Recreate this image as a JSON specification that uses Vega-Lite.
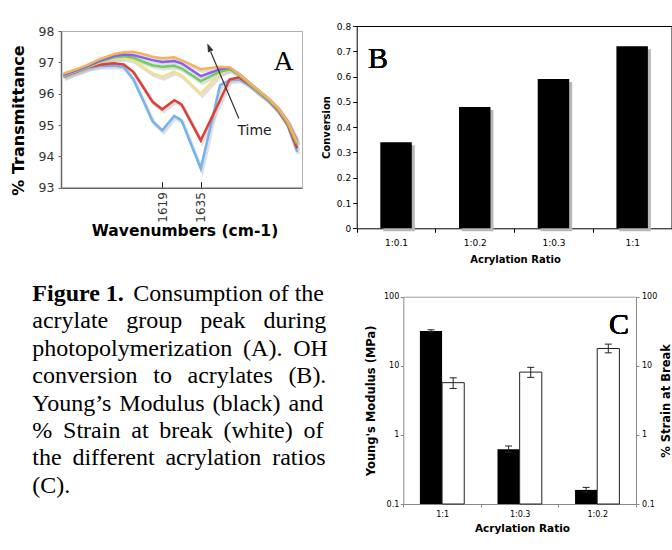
{
  "$schema": "https://vega.github.io/schema/vega-lite/v6.json",
  "width": 672,
  "height": 550,
  "autosize": "none",
  "padding": 0,
  "background": "white",
  "config": {
    "view": {"stroke": null},
    "font": "DejaVu Sans",
    "axis": {"grid": false, "labelFont": "DejaVu Sans", "titleFont": "DejaVu Sans", "domainColor": "#000", "tickColor": "#000", "labelColor": "#000", "titleColor": "#000", "titleFontWeight": "bold", "titleBaseline": "middle"}
  },
  "datasets": {
    "spectra": [
      {"series":"t1","wavenumber":1578,"transmittance":96.52},{"series":"t1","wavenumber":1583,"transmittance":96.67},{"series":"t1","wavenumber":1588,"transmittance":96.81},{"series":"t1","wavenumber":1593,"transmittance":96.88},{"series":"t1","wavenumber":1599,"transmittance":96.90},{"series":"t1","wavenumber":1603,"transmittance":96.85},{"series":"t1","wavenumber":1607,"transmittance":96.46},{"series":"t1","wavenumber":1611,"transmittance":95.80},{"series":"t1","wavenumber":1615,"transmittance":95.12},{"series":"t1","wavenumber":1619,"transmittance":94.83},{"series":"t1","wavenumber":1624,"transmittance":95.29},{"series":"t1","wavenumber":1627,"transmittance":95.15},{"series":"t1","wavenumber":1635,"transmittance":93.61},{"series":"t1","wavenumber":1643,"transmittance":96.27},{"series":"t1","wavenumber":1647,"transmittance":96.43},{"series":"t1","wavenumber":1651,"transmittance":96.45},{"series":"t1","wavenumber":1655,"transmittance":96.27},{"series":"t1","wavenumber":1659,"transmittance":96.02},{"series":"t1","wavenumber":1663,"transmittance":95.77},{"series":"t1","wavenumber":1667,"transmittance":95.45},{"series":"t1","wavenumber":1671,"transmittance":95.00},{"series":"t1","wavenumber":1675,"transmittance":94.14},
      {"series":"t2","wavenumber":1578,"transmittance":96.55},{"series":"t2","wavenumber":1583,"transmittance":96.70},{"series":"t2","wavenumber":1588,"transmittance":96.84},{"series":"t2","wavenumber":1593,"transmittance":96.92},{"series":"t2","wavenumber":1599,"transmittance":96.97},{"series":"t2","wavenumber":1603,"transmittance":96.93},{"series":"t2","wavenumber":1607,"transmittance":96.70},{"series":"t2","wavenumber":1611,"transmittance":96.22},{"series":"t2","wavenumber":1615,"transmittance":95.74},{"series":"t2","wavenumber":1619,"transmittance":95.50},{"series":"t2","wavenumber":1624,"transmittance":95.79},{"series":"t2","wavenumber":1627,"transmittance":95.66},{"series":"t2","wavenumber":1635,"transmittance":94.51},{"series":"t2","wavenumber":1643,"transmittance":95.79},{"series":"t2","wavenumber":1647,"transmittance":96.46},{"series":"t2","wavenumber":1651,"transmittance":96.52},{"series":"t2","wavenumber":1655,"transmittance":96.30},{"series":"t2","wavenumber":1659,"transmittance":96.05},{"series":"t2","wavenumber":1663,"transmittance":95.80},{"series":"t2","wavenumber":1667,"transmittance":95.48},{"series":"t2","wavenumber":1671,"transmittance":95.02},{"series":"t2","wavenumber":1675,"transmittance":94.26},
      {"series":"t3","wavenumber":1578,"transmittance":96.57},{"series":"t3","wavenumber":1583,"transmittance":96.71},{"series":"t3","wavenumber":1588,"transmittance":96.85},{"series":"t3","wavenumber":1593,"transmittance":97.00},{"series":"t3","wavenumber":1599,"transmittance":97.13},{"series":"t3","wavenumber":1603,"transmittance":97.14},{"series":"t3","wavenumber":1607,"transmittance":97.07},{"series":"t3","wavenumber":1611,"transmittance":96.86},{"series":"t3","wavenumber":1615,"transmittance":96.65},{"series":"t3","wavenumber":1619,"transmittance":96.54},{"series":"t3","wavenumber":1624,"transmittance":96.70},{"series":"t3","wavenumber":1627,"transmittance":96.59},{"series":"t3","wavenumber":1635,"transmittance":96.00},{"series":"t3","wavenumber":1643,"transmittance":96.65},{"series":"t3","wavenumber":1647,"transmittance":96.78},{"series":"t3","wavenumber":1651,"transmittance":96.60},{"series":"t3","wavenumber":1655,"transmittance":96.33},{"series":"t3","wavenumber":1659,"transmittance":96.07},{"series":"t3","wavenumber":1663,"transmittance":95.82},{"series":"t3","wavenumber":1667,"transmittance":95.52},{"series":"t3","wavenumber":1671,"transmittance":95.08},{"series":"t3","wavenumber":1675,"transmittance":94.40},
      {"series":"t4","wavenumber":1578,"transmittance":96.58},{"series":"t4","wavenumber":1583,"transmittance":96.72},{"series":"t4","wavenumber":1588,"transmittance":96.86},{"series":"t4","wavenumber":1593,"transmittance":97.02},{"series":"t4","wavenumber":1599,"transmittance":97.16},{"series":"t4","wavenumber":1603,"transmittance":97.19},{"series":"t4","wavenumber":1607,"transmittance":97.15},{"series":"t4","wavenumber":1611,"transmittance":97.02},{"series":"t4","wavenumber":1615,"transmittance":96.91},{"series":"t4","wavenumber":1619,"transmittance":96.86},{"series":"t4","wavenumber":1624,"transmittance":96.89},{"series":"t4","wavenumber":1627,"transmittance":96.81},{"series":"t4","wavenumber":1635,"transmittance":96.40},{"series":"t4","wavenumber":1643,"transmittance":96.70},{"series":"t4","wavenumber":1647,"transmittance":96.78},{"series":"t4","wavenumber":1651,"transmittance":96.60},{"series":"t4","wavenumber":1655,"transmittance":96.33},{"series":"t4","wavenumber":1659,"transmittance":96.07},{"series":"t4","wavenumber":1663,"transmittance":95.82},{"series":"t4","wavenumber":1667,"transmittance":95.52},{"series":"t4","wavenumber":1671,"transmittance":95.08},{"series":"t4","wavenumber":1675,"transmittance":94.40},
      {"series":"t5","wavenumber":1578,"transmittance":96.60},{"series":"t5","wavenumber":1583,"transmittance":96.74},{"series":"t5","wavenumber":1588,"transmittance":96.88},{"series":"t5","wavenumber":1593,"transmittance":97.05},{"series":"t5","wavenumber":1599,"transmittance":97.20},{"series":"t5","wavenumber":1603,"transmittance":97.25},{"series":"t5","wavenumber":1607,"transmittance":97.23},{"series":"t5","wavenumber":1611,"transmittance":97.15},{"series":"t5","wavenumber":1615,"transmittance":97.07},{"series":"t5","wavenumber":1619,"transmittance":97.01},{"series":"t5","wavenumber":1624,"transmittance":97.04},{"series":"t5","wavenumber":1627,"transmittance":96.97},{"series":"t5","wavenumber":1635,"transmittance":96.56},{"series":"t5","wavenumber":1643,"transmittance":96.78},{"series":"t5","wavenumber":1647,"transmittance":96.83},{"series":"t5","wavenumber":1651,"transmittance":96.62},{"series":"t5","wavenumber":1655,"transmittance":96.36},{"series":"t5","wavenumber":1659,"transmittance":96.10},{"series":"t5","wavenumber":1663,"transmittance":95.85},{"series":"t5","wavenumber":1667,"transmittance":95.55},{"series":"t5","wavenumber":1671,"transmittance":95.12},{"series":"t5","wavenumber":1675,"transmittance":94.50},
      {"series":"t6","wavenumber":1578,"transmittance":96.64},{"series":"t6","wavenumber":1583,"transmittance":96.77},{"series":"t6","wavenumber":1588,"transmittance":96.92},{"series":"t6","wavenumber":1593,"transmittance":97.10},{"series":"t6","wavenumber":1599,"transmittance":97.26},{"series":"t6","wavenumber":1603,"transmittance":97.32},{"series":"t6","wavenumber":1607,"transmittance":97.34},{"series":"t6","wavenumber":1611,"transmittance":97.27},{"series":"t6","wavenumber":1615,"transmittance":97.18},{"series":"t6","wavenumber":1619,"transmittance":97.13},{"series":"t6","wavenumber":1624,"transmittance":97.16},{"series":"t6","wavenumber":1627,"transmittance":97.07},{"series":"t6","wavenumber":1635,"transmittance":96.78},{"series":"t6","wavenumber":1643,"transmittance":96.86},{"series":"t6","wavenumber":1647,"transmittance":96.84},{"series":"t6","wavenumber":1651,"transmittance":96.62},{"series":"t6","wavenumber":1655,"transmittance":96.36},{"series":"t6","wavenumber":1659,"transmittance":96.10},{"series":"t6","wavenumber":1663,"transmittance":95.85},{"series":"t6","wavenumber":1667,"transmittance":95.55},{"series":"t6","wavenumber":1671,"transmittance":95.12},{"series":"t6","wavenumber":1675,"transmittance":94.45}
    ],
    "conversion": [
      {"ratio":"1:0.1","conversion":0.34},
      {"ratio":"1:0.2","conversion":0.48},
      {"ratio":"1:0.3","conversion":0.59},
      {"ratio":"1:1","conversion":0.72}
    ],
    "mechanics": [
      {"ratio":"1:1","measure":"Young's Modulus","value":32,"low":31,"high":33.2},
      {"ratio":"1:1","measure":"% Strain at Break","value":5.7,"low":4.7,"high":6.7},
      {"ratio":"1:0.3","measure":"Young's Modulus","value":0.62,"low":0.56,"high":0.69},
      {"ratio":"1:0.3","measure":"% Strain at Break","value":8.1,"low":6.8,"high":9.5},
      {"ratio":"1:0.2","measure":"Young's Modulus","value":0.16,"low":0.148,"high":0.174},
      {"ratio":"1:0.2","measure":"% Strain at Break","value":17.8,"low":15.4,"high":20.6}
    ]
  },
  "resolve": {"scale": {"x": "independent", "y": "independent"}},
  "layer": [
    {
      "resolve": {"axis": {"x": "independent", "y": "independent"}},
      "layer": [
        {
          "data": {"name": "spectra"},
          "mark": {"type": "line", "color": "#c4c4c4", "strokeWidth": 3.5, "opacity": 0.55, "xOffset": 1.5, "yOffset": 2},
          "encoding": {
            "x": {"field": "wavenumber", "type": "quantitative", "scale": {"domain": [1577, 1677], "range": [61, 302], "nice": false, "zero": false}, "axis": {"orient": "top", "offset": -31, "ticks": false, "labels": false, "title": null, "domainColor": "#b0b0b0"}},
            "y": {"field": "transmittance", "type": "quantitative", "scale": {"domain": [93, 98], "range": [187.7, 31], "nice": false, "zero": false}, "axis": {"orient": "right", "offset": -370, "ticks": false, "labels": false, "title": null, "domainColor": "#b0b0b0"}},
            "detail": {"field": "series"}
          }
        },
        {
          "data": {"name": "spectra"},
          "mark": {"type": "line", "strokeWidth": 2.5},
          "encoding": {
            "x": {"field": "wavenumber", "type": "quantitative", "scale": {"domain": [1577, 1677], "range": [61, 302], "nice": false, "zero": false},
              "axis": {"orient": "bottom", "offset": -362.3, "values": [1619, 1635], "format": "d", "labelAngle": -90, "tickSize": -6, "labelPadding": 10, "labelFontSize": 12, "labelColor": "#333", "domainColor": "#666", "domainWidth": 1.5, "tickColor": "#222",
                "title": "Wavenumbers (cm-1)", "titleFontSize": 15.5, "titleX": 184.5, "titleY": 42.9}},
            "y": {"field": "transmittance", "type": "quantitative", "scale": {"domain": [93, 98], "range": [187.7, 31], "nice": false, "zero": false},
              "axis": {"orient": "left", "offset": -61, "values": [93, 94, 95, 96, 97, 98], "format": "d", "tickSize": 3, "labelPadding": 4, "labelFontSize": 12.5, "labelColor": "#333", "domainColor": "#666", "domainWidth": 1.5, "tickColor": "#666",
                "title": "% Transmittance", "titleFontSize": 16, "titleX": -43, "titleY": 120}},
            "color": {"field": "series", "type": "nominal", "scale": {"domain": ["t1", "t2", "t3", "t4", "t5", "t6"], "range": ["#74b3ee", "#de3f38", "#f3e08e", "#6ccf5e", "#8e5ef0", "#f5b35a"]}, "legend": null}
          }
        },
        {
          "data": {"values": [{"wn_start": 1650.8, "t_start": 95.21, "wn_end": 1639.1, "t_end": 97.34}]},
          "mark": {"type": "rule", "color": "#333", "strokeWidth": 1.2},
          "encoding": {
            "x": {"field": "wn_start", "type": "quantitative", "scale": {"domain": [1577, 1677], "range": [61, 302], "nice": false, "zero": false}, "axis": null},
            "y": {"field": "t_start", "type": "quantitative", "scale": {"domain": [93, 98], "range": [187.7, 31], "nice": false, "zero": false}, "axis": null},
            "x2": {"field": "wn_end"},
            "y2": {"field": "t_end"}
          }
        },
        {
          "data": {"values": [{"wn": 1638.4, "t": 97.48}]},
          "mark": {"type": "point", "shape": "M0,-1L0.65,1L-0.65,1Z", "filled": true, "color": "#333", "opacity": 1, "size": 81, "angle": -22.8},
          "encoding": {
            "x": {"field": "wn", "type": "quantitative", "scale": {"domain": [1577, 1677], "range": [61, 302], "nice": false, "zero": false}, "axis": null},
            "y": {"field": "t", "type": "quantitative", "scale": {"domain": [93, 98], "range": [187.7, 31], "nice": false, "zero": false}, "axis": null}
          }
        },
        {
          "data": {"values": [{"wn": 1650.2, "t": 94.67, "label": "Time"}]},
          "mark": {"type": "text", "font": "DejaVu Sans", "fontSize": 14, "align": "left", "baseline": "alphabetic", "color": "#222"},
          "encoding": {
            "x": {"field": "wn", "type": "quantitative", "scale": {"domain": [1577, 1677], "range": [61, 302], "nice": false, "zero": false}, "axis": null},
            "y": {"field": "t", "type": "quantitative", "scale": {"domain": [93, 98], "range": [187.7, 31], "nice": false, "zero": false}, "axis": null},
            "text": {"field": "label"}
          }
        },
        {
          "data": {"values": [{"wn": 1665.2, "t": 96.75, "label": "A"}]},
          "mark": {"type": "text", "font": "Liberation Serif", "fontSize": 28, "align": "left", "baseline": "alphabetic", "color": "#000"},
          "encoding": {
            "x": {"field": "wn", "type": "quantitative", "scale": {"domain": [1577, 1677], "range": [61, 302], "nice": false, "zero": false}, "axis": null},
            "y": {"field": "t", "type": "quantitative", "scale": {"domain": [93, 98], "range": [187.7, 31], "nice": false, "zero": false}, "axis": null},
            "text": {"field": "label"}
          }
        }
      ]
    },
    {
      "data": {"name": "conversion"},
      "resolve": {"axis": {"x": "independent", "y": "independent"}},
      "layer": [
        {
          "mark": {"type": "bar", "color": "#b8b8b8", "width": {"band": 0.4}, "xOffset": 3, "yOffset": 3},
          "encoding": {
            "x": {"field": "ratio", "type": "nominal", "sort": null, "scale": {"type": "band", "domain": ["1:0.1", "1:0.2", "1:0.3", "1:1"], "range": [356.7, 671.5], "paddingInner": 0, "paddingOuter": 0}, "axis": {"orient": "top", "offset": -26, "ticks": false, "labels": false, "title": null, "domainColor": "#000"}},
            "y": {"field": "conversion", "type": "quantitative", "scale": {"domain": [0, 0.8], "range": [228.3, 26], "nice": false}, "axis": {"orient": "right", "offset": -0.5, "ticks": false, "labels": false, "title": null, "domainColor": "#000"}}
          }
        },
        {
          "mark": {"type": "bar", "color": "#000", "width": {"band": 0.4}},
          "encoding": {
            "x": {"field": "ratio", "type": "nominal", "sort": null, "scale": {"type": "band", "domain": ["1:0.1", "1:0.2", "1:0.3", "1:1"], "range": [356.7, 671.5], "paddingInner": 0, "paddingOuter": 0},
              "axis": {"orient": "bottom", "offset": -321.7, "tickBand": "extent", "tickSize": 4, "labelAngle": 0, "labelFontSize": 9, "labelPadding": 6, "title": "Acrylation Ratio", "titleFontSize": 10, "titleX": 515, "titleY": 31}},
            "y": {"field": "conversion", "type": "quantitative", "scale": {"domain": [0, 0.8], "range": [228.3, 26], "nice": false},
              "axis": {"orient": "left", "offset": -356.7, "values": [0, 0.1, 0.2, 0.3, 0.4, 0.5, 0.6, 0.7, 0.8], "format": ".1~f", "tickSize": 4, "labelPadding": 2, "labelFontSize": 9, "title": "Conversion", "titleFontSize": 10, "titleX": -30, "titleY": 127}}
          }
        },
        {
          "mark": {"type": "text", "font": "Liberation Serif", "fontSize": 30, "align": "center", "baseline": "alphabetic", "dx": -18, "color": "#000"},
          "encoding": {
            "x": {"datum": "1:0.1", "type": "nominal", "scale": {"type": "band", "domain": ["1:0.1", "1:0.2", "1:0.3", "1:1"], "range": [356.7, 671.5], "paddingInner": 0, "paddingOuter": 0}, "axis": null},
            "y": {"datum": 0.634, "type": "quantitative", "scale": {"domain": [0, 0.8], "range": [228.3, 26], "nice": false}, "axis": null},
            "text": {"value": "B"}
          }
        }
      ]
    },
    {
      "data": {"name": "mechanics"},
      "resolve": {"axis": {"x": "independent", "y": "independent"}},
      "layer": [
        {
          "transform": [{"filter": {"field": "measure", "equal": "Young's Modulus"}}],
          "mark": {"type": "bar", "color": "#000"},
          "encoding": {
            "x": {"field": "ratio", "type": "nominal", "sort": null, "scale": {"type": "band", "domain": ["1:1", "1:0.3", "1:0.2"], "range": [403.3, 636], "paddingInner": 0, "paddingOuter": 0},
              "axis": {"orient": "bottom", "offset": -46, "tickBand": "extent", "tickSize": 3, "labelAngle": 0, "labelFontSize": 8, "labelPadding": 3, "domainColor": "#888", "tickColor": "#888", "title": "Acrylation Ratio", "titleFontSize": 10.5, "titleX": 522, "titleY": 24.3}},
            "xOffset": {"field": "measure", "type": "nominal", "scale": {"domain": ["Young's Modulus", "% Strain at Break"], "paddingInner": 0, "paddingOuter": 0.75}},
            "y": {"field": "value", "type": "quantitative", "scale": {"type": "log", "domain": [0.1, 100], "range": [504, 296.7], "nice": false},
              "axis": {"orient": "left", "offset": -403.3, "values": [0.1, 1, 10, 100], "format": "~g", "tickSize": 3, "labelPadding": 1.5, "labelFontSize": 8, "domainColor": "#888", "tickColor": "#888", "title": "Young's Modulus (MPa)", "titleFontSize": 11.5, "titleX": -32.3, "titleY": 400.4}},
            "y2": {"datum": 0.1}
          }
        },
        {
          "transform": [{"filter": {"field": "measure", "equal": "% Strain at Break"}}],
          "mark": {"type": "bar", "fill": "#fff", "stroke": "#222", "strokeWidth": 1},
          "encoding": {
            "x": {"field": "ratio", "type": "nominal", "sort": null, "scale": {"type": "band", "domain": ["1:1", "1:0.3", "1:0.2"], "range": [403.3, 636], "paddingInner": 0, "paddingOuter": 0}, "axis": null},
            "xOffset": {"field": "measure", "type": "nominal", "scale": {"domain": ["Young's Modulus", "% Strain at Break"], "paddingInner": 0, "paddingOuter": 0.75}},
            "y": {"field": "value", "type": "quantitative", "scale": {"type": "log", "domain": [0.1, 100], "range": [504, 296.7], "nice": false},
              "axis": {"orient": "right", "offset": -36, "values": [0.1, 1, 10, 100], "format": "~g", "tickSize": 3, "labelPadding": 2.5, "labelFontSize": 8, "domainColor": "#888", "tickColor": "#888", "title": "% Strain at Break", "titleAngle": 270, "titleFontSize": 11.5, "titleX": 30.7, "titleY": 400.4}},
            "y2": {"datum": 0.1}
          }
        },
        {
          "mark": {"type": "rule", "color": "#222", "strokeWidth": 1},
          "encoding": {
            "x": {"field": "ratio", "type": "nominal", "sort": null, "scale": {"type": "band", "domain": ["1:1", "1:0.3", "1:0.2"], "range": [403.3, 636], "paddingInner": 0, "paddingOuter": 0}, "axis": {"orient": "top", "offset": -296.7, "ticks": false, "labels": false, "title": null, "domainColor": "#a0a0a0"}},
            "xOffset": {"field": "measure", "type": "nominal", "scale": {"domain": ["Young's Modulus", "% Strain at Break"], "paddingInner": 0, "paddingOuter": 0.75}},
            "y": {"field": "low", "type": "quantitative", "scale": {"type": "log", "domain": [0.1, 100], "range": [504, 296.7], "nice": false}, "axis": null},
            "y2": {"field": "high"}
          }
        },
        {
          "mark": {"type": "tick", "color": "#222", "size": 7, "thickness": 1, "orient": "horizontal", "opacity": 1},
          "encoding": {
            "x": {"field": "ratio", "type": "nominal", "sort": null, "scale": {"type": "band", "domain": ["1:1", "1:0.3", "1:0.2"], "range": [403.3, 636], "paddingInner": 0, "paddingOuter": 0}, "axis": null},
            "xOffset": {"field": "measure", "type": "nominal", "scale": {"domain": ["Young's Modulus", "% Strain at Break"], "paddingInner": 0, "paddingOuter": 0.75}},
            "y": {"field": "low", "type": "quantitative", "scale": {"type": "log", "domain": [0.1, 100], "range": [504, 296.7], "nice": false}, "axis": null}
          }
        },
        {
          "mark": {"type": "tick", "color": "#222", "size": 7, "thickness": 1, "orient": "horizontal", "opacity": 1},
          "encoding": {
            "x": {"field": "ratio", "type": "nominal", "sort": null, "scale": {"type": "band", "domain": ["1:1", "1:0.3", "1:0.2"], "range": [403.3, 636], "paddingInner": 0, "paddingOuter": 0}, "axis": null},
            "xOffset": {"field": "measure", "type": "nominal", "scale": {"domain": ["Young's Modulus", "% Strain at Break"], "paddingInner": 0, "paddingOuter": 0.75}},
            "y": {"field": "high", "type": "quantitative", "scale": {"type": "log", "domain": [0.1, 100], "range": [504, 296.7], "nice": false}, "axis": null}
          }
        },
        {
          "mark": {"type": "text", "font": "Liberation Serif", "fontSize": 30, "align": "center", "baseline": "alphabetic", "dx": 21.7, "color": "#000"},
          "encoding": {
            "x": {"datum": "1:0.2", "type": "nominal", "scale": {"type": "band", "domain": ["1:1", "1:0.3", "1:0.2"], "range": [403.3, 636], "paddingInner": 0, "paddingOuter": 0}, "axis": null},
            "y": {"datum": 29.3, "type": "quantitative", "scale": {"type": "log", "domain": [0.1, 100], "range": [504, 296.7], "nice": false}, "axis": null},
            "text": {"value": "C"}
          }
        }
      ]
    },
    {
      "layer": [
        {
          "data": {"values": [{"line": 1, "text": "Figure 1."}]},
          "mark": {"type": "text", "font": "Liberation Serif", "fontSize": 24, "fontWeight": "bold", "align": "left", "baseline": "alphabetic", "color": "#000"},
          "encoding": {
            "x": {"datum": 0, "type": "quantitative", "scale": {"domain": [0, 1], "range": [32.3, 328.3]}, "axis": null},
            "y": {"field": "line", "type": "quantitative", "scale": {"domain": [1, 8], "range": [301, 492.7]}, "axis": null},
            "text": {"field": "text"}
          }
        },
        {
          "data": {"values": [{"line": 1, "text": "Consumption of the"}]},
          "mark": {"type": "text", "font": "Liberation Serif", "fontSize": 24, "align": "left", "baseline": "alphabetic", "color": "#000", "dx": 101},
          "encoding": {
            "x": {"datum": 0, "type": "quantitative", "scale": {"domain": [0, 1], "range": [32.3, 328.3]}, "axis": null},
            "y": {"field": "line", "type": "quantitative", "scale": {"domain": [1, 8], "range": [301, 492.7]}, "axis": null},
            "text": {"field": "text"}
          }
        },
        {
          "data": {"values": [
            {"line": 2, "text": "acrylate \u2002group \u2002peak \u2002during"},
            {"line": 3, "text": "photopolymerization \u2009(A). \u2009OH"},
            {"line": 4, "text": "conversion \u2009\u2009to \u2009\u2009acrylates \u2009\u2009(B)."},
            {"line": 5, "text": "Young\u2019s \u200aModulus \u200a(black) \u200aand"},
            {"line": 6, "text": "% \u2009Strain \u2009at \u2009break \u2009(white) \u2009of"},
            {"line": 7, "text": "the \u2009different \u2009acrylation \u2009ratios"},
            {"line": 8, "text": "(C)."}
          ]},
          "mark": {"type": "text", "font": "Liberation Serif", "fontSize": 24, "align": "left", "baseline": "alphabetic", "color": "#000"},
          "encoding": {
            "x": {"datum": 0, "type": "quantitative", "scale": {"domain": [0, 1], "range": [32.3, 328.3]}, "axis": null},
            "y": {"field": "line", "type": "quantitative", "scale": {"domain": [1, 8], "range": [301, 492.7]}, "axis": null},
            "text": {"field": "text"}
          }
        }
      ]
    }
  ]
}
